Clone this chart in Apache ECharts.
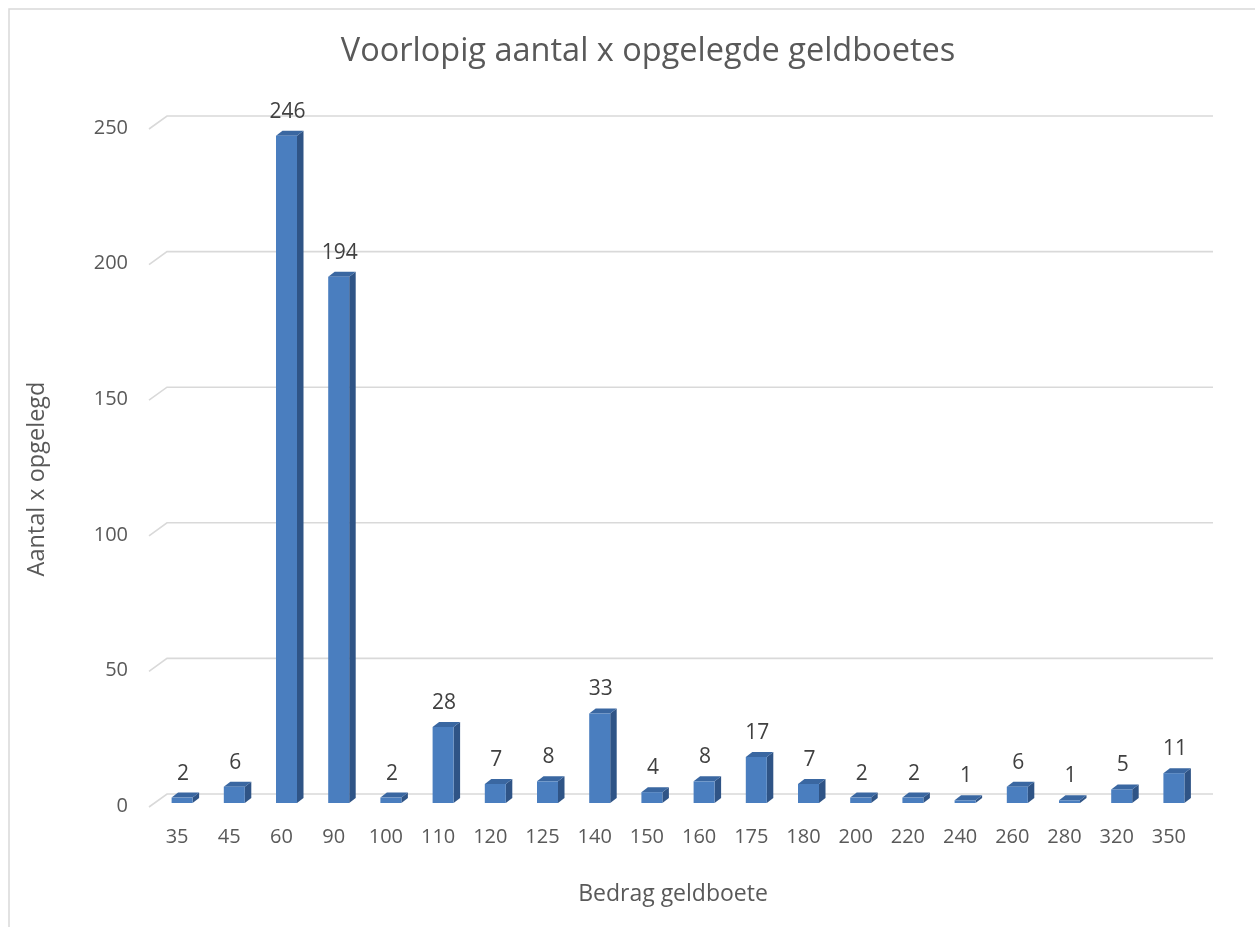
<!DOCTYPE html>
<html>
<head>
<meta charset="utf-8">
<title>Voorlopig aantal x opgelegde geldboetes</title>
<script src="https://cdn.jsdelivr.net/npm/echarts@6/dist/echarts.min.js"></script>
<style>
  html, body { margin: 0; padding: 0; background: #fff; }
  #chart { width: 1255px; height: 927px; }
</style>
</head>
<body>
<div id="chart"></div>
<script>
// bedragen (x-as) en aantallen
const bedragen = ["35", "45", "60", "90", "100", "110", "120", "125", "140", "150",
  "160", "175", "180", "200", "220", "240", "260", "280", "320", "350"];
const aantallen = [2, 6, 246, 194, 2, 28, 7, 8, 33, 4, 8, 17, 7, 2, 2, 1, 6, 1, 5, 11];
const yTicks = [0, 50, 100, 150, 200, 250];

const FONT = "'Open Sans', sans-serif";
const TEXT = "#595959";

// diepte van de "3D" vloer en van de balken
const wallDx = 18, wallDy = -13;
const barShiftX = 5, barShiftY = -3;
const barW = 21, barDx = 6.5, barDy = -5;

const chart = echarts.init(document.getElementById("chart"));

const option = {
  animation: false,
  title: {
    text: "Voorlopig aantal x opgelegde geldboetes",
    left: 643,
    top: 30,
    textAlign: "center",
    textStyle: { fontFamily: FONT, fontSize: 32.5, fontWeight: "normal", color: TEXT }
  },
  graphic: [
    {
      type: "rect",
      shape: { x: 9, y: 9, width: 1300, height: 1000 },
      style: { fill: "none", stroke: "#d9d9d9", lineWidth: 1.5 },
      silent: true
    }
  ],
  grid: { left: 151, right: 60, top: 128, bottom: 121 },
  xAxis: {
    type: "category",
    data: bedragen,
    axisLine: { show: false },
    axisTick: { show: false },
    axisLabel: { color: TEXT, fontFamily: FONT, fontSize: 20, margin: 21 },
    name: "Bedrag geldboete",
    nameLocation: "middle",
    nameGap: 77,
    nameTextStyle: { color: TEXT, fontFamily: FONT, fontSize: 23 }
  },
  yAxis: {
    type: "value",
    min: 0,
    max: 250,
    interval: 50,
    splitLine: { show: false },
    axisLine: { show: false },
    axisLabel: { color: TEXT, fontFamily: FONT, fontSize: 20, margin: 23 },
    name: "Aantal x opgelegd",
    nameLocation: "middle",
    nameRotate: 90,
    nameGap: 102,
    nameTextStyle: { color: TEXT, fontFamily: FONT, fontSize: 23.5, padding: [0, 24, 0, 0] }
  },
  series: [
    {
      // achterwand met rasterlijnen
      name: "raster",
      type: "custom",
      silent: true,
      z: 1,
      data: yTicks.map(v => [0, v]),
      encode: { x: 0, y: 1 },
      renderItem: function (params, api) {
        const cs = params.coordSys;
        const y = api.coord([0, api.value(1)])[1];
        return {
          type: "polyline",
          shape: {
            points: [
              [cs.x - 2, y + 1],
              [cs.x - 2 + wallDx, y + 1 + wallDy],
              [cs.x + cs.width + wallDx, y + 1 + wallDy]
            ]
          },
          style: { stroke: "#d9d9d9", lineWidth: 1.6, fill: null }
        };
      }
    },
    {
      name: "Aantal x opgelegd",
      type: "custom",
      z: 2,
      data: aantallen.map((v, i) => [i, v]),
      encode: { x: 0, y: 1 },
      renderItem: function (params, api) {
        const i = api.value(0);
        const v = api.value(1);
        const top = api.coord([i, v]);
        const base = api.coord([i, 0]);
        const xl = top[0] - barW / 2 + barShiftX;
        const xr = xl + barW;
        const yt = top[1] + barShiftY;
        const yb = base[1] + barShiftY;
        return {
          type: "group",
          children: [
            {
              type: "polygon",
              shape: { points: [[xr, yt], [xr + barDx, yt + barDy], [xr + barDx, yb + barDy], [xr, yb]] },
              style: { fill: "#2f5486" }
            },
            {
              type: "polygon",
              shape: { points: [[xl, yt], [xl + barDx, yt + barDy], [xr + barDx, yt + barDy], [xr, yt]] },
              style: { fill: "#3a67a1" }
            },
            {
              type: "rect",
              shape: { x: xl, y: yt, width: barW, height: yb - yt },
              style: { fill: "#4a7ebf" }
            },
            {
              type: "text",
              style: {
                x: (xl + xr) / 2 + 1,
                y: yt - 24,
                text: String(v),
                align: "center",
                verticalAlign: "middle",
                font: "21px " + FONT,
                fill: "#404040"
              }
            }
          ]
        };
      }
    }
  ]
};

chart.setOption(option);
</script>
</body>
</html>
